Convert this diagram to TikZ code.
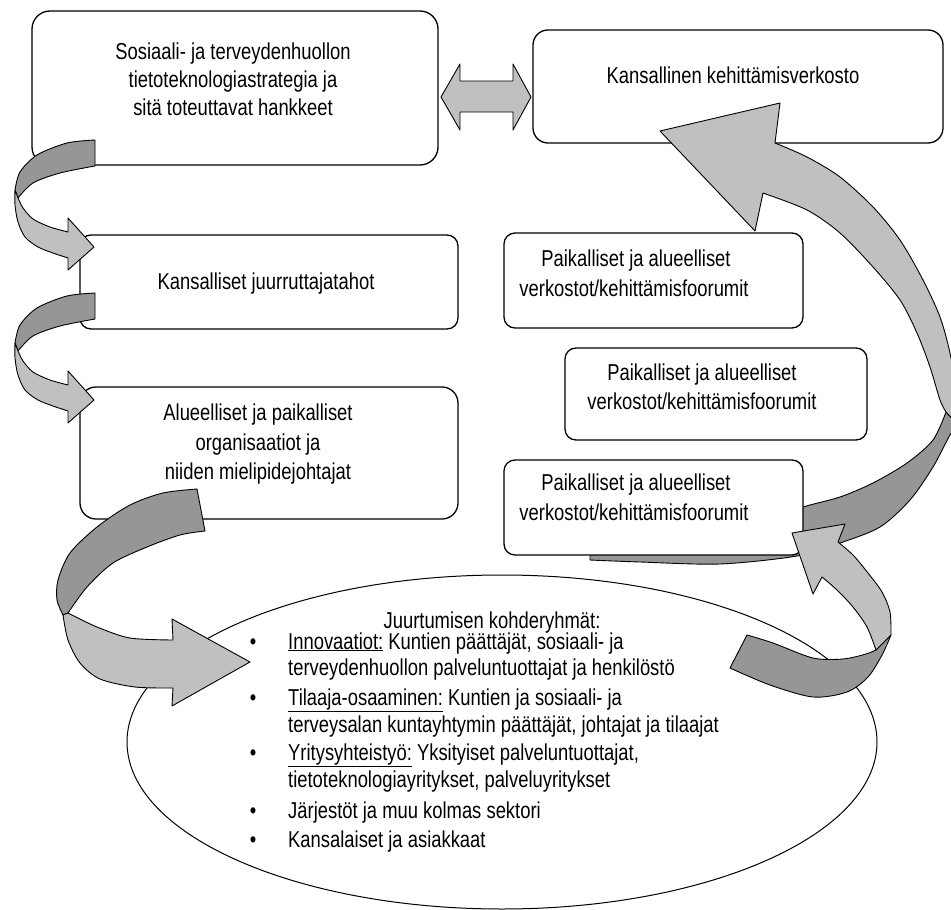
\documentclass[tikz,border=0pt]{standalone}
\usepackage{fontspec}
\setmainfont{Liberation Sans}[FakeStretch=0.80]
\usetikzlibrary{shapes.geometric}
\definecolor{dkg}{RGB}{150,150,150}
\definecolor{ltg}{RGB}{192,192,192}
\tikzset{
  box/.style={draw, line width=1.3pt, fill=white, inner sep=0pt, outer sep=0pt},
  txt/.style={font=\fontsize{23}{29}\selectfont, inner sep=0pt, anchor=base},
  itm/.style={txt, anchor=base west},
  arrline/.style={draw=black, line width=0.9pt, line join=round},
  curl/.pic={
    \filldraw[arrline, fill=dkg] (95,140) -- plot[smooth] coordinates {(95,140) (67,143) (37,155) (20,172) (15,190)} -- (18,198) -- plot[smooth] coordinates {(18,198) (33,183) (60,173) (95,166)} -- cycle;
    \filldraw[arrline, fill=ltg] (15,190) -- plot[smooth] coordinates {(15,190) (15,205) (18,222) (25,237) (38,247) (53,253) (68,258)} -- (68,270) -- (94,247) -- (68,218) -- (68,232) -- plot[smooth] coordinates {(68,232) (50,227) (33,219) (23,208) (18,198)} -- cycle;
  }
}
\begin{document}
\begin{tikzpicture}[x=1pt, y=-1pt]
\useasboundingbox (0,0) rectangle (951,910);
\clip (0,0) rectangle (951,910);
\fill[white] (0,0) rectangle (951,910);

% big right arrow, dark part (behind boxes)
\filldraw[arrline, fill=dkg] (946,412) -- plot[smooth] coordinates {(946,412) (933,440) (907,463) (873,483) (840,497) (803,507) (760,522) (700,535) (640,543) (590,548)} -- (590,560) -- plot[smooth] coordinates {(590,560) (640,562) (720,564) (797,556) (840,543) (880,527) (910,500) (933,467) (950,435) (958,425)} -- cycle;

% boxes
\node[box, rounded corners=18pt, minimum width=406pt, minimum height=154pt] (b1) at (235,88) {};
\node[box, rounded corners=15pt, minimum width=410pt, minimum height=113pt] (b2) at (738,86.5) {};
\node[box, rounded corners=11pt, minimum width=378pt, minimum height=94pt] (b3) at (269,282) {};
\node[box, rounded corners=16pt, minimum width=378pt, minimum height=132pt] (b4) at (269,453) {};
\node[box, rounded corners=11pt, minimum width=299pt, minimum height=95pt] (b5) at (653.5,280.5) {};
\node[box, rounded corners=11pt, minimum width=302pt, minimum height=92pt] (b6) at (716,394) {};
\node[box, rounded corners=11pt, minimum width=299pt, minimum height=95pt] (b7) at (653.5,507.5) {};
\node[draw, ellipse, line width=1pt, fill=white, inner sep=0pt, minimum width=750pt, minimum height=334pt] (ell) at (502,742) {};

% big right arrow, light part
\filldraw[arrline, fill=ltg] (660,131) -- (780,103) -- (775,143) -- plot[smooth] coordinates {(775,143) (807,157) (840,177) (873,207) (900,240) (923,280) (940,317) (950,353) (956,390) (958,425)} -- (946,412) -- plot[smooth] coordinates {(946,412) (940,400) (930,367) (917,333) (900,300) (873,267) (840,233) (807,210) (763,193)} -- (755,231) -- cycle;

% lower right arrow
\filldraw[arrline, fill=dkg] (747,635) -- plot[smooth] coordinates {(747,635) (773,643) (813,658) (843,659) (866,654) (876,650)} -- (891,635) -- plot[smooth] coordinates {(891,635) (882,655) (868,677) (847,692) (813,697) (770,685) (730,668)} -- cycle;
\filldraw[arrline, fill=ltg] (792,533) -- (845,524) -- (838,542) -- plot[smooth] coordinates {(838,542) (853,555) (868,573) (882,592) (890,612) (891,635)} -- (876,650) -- plot[smooth] coordinates {(876,650) (867,627) (853,607) (837,590) (822,577)} -- (813,594) -- cycle;

% left curl arrows
\pic at (0,0) {curl};
\pic at (0,153) {curl};

% arrow from box 4 to ellipse
\filldraw[arrline, fill=dkg] (197,489) -- plot[smooth] coordinates {(197,489) (163,493) (130,505) (97,527) (70,553) (58,580) (57,600) (63,615)} -- (68,613) -- plot[smooth] coordinates {(68,613) (87,587) (113,563) (147,547) (180,535) (205,531)} -- cycle;
\filldraw[arrline, fill=ltg] (63,615) -- plot[smooth] coordinates {(63,615) (68,640) (80,663) (100,679) (135,687) (173,688)} -- (172,706) -- (250,662) -- (172,619) -- (173,640) -- plot[smooth] coordinates {(173,640) (130,638) (97,627) (68,613)} -- cycle;

% double arrow
\filldraw[arrline, fill=ltg] (441,97) -- (460,64) -- (460,81) -- (513,81) -- (513,64) -- (531,97) -- (513,130) -- (513,112) -- (460,112) -- (460,130) -- cycle;

% texts
\node[txt] (t1a) at (233,59) {Sosiaali- ja terveydenhuollon};
\node[txt] (t1b) at (233,87) {tietoteknologiastrategia ja};
\node[txt] (t1c) at (233,115) {sitä toteuttavat hankkeet};
\node[txt] (t2) at (733,83) {Kansallinen kehittämisverkosto};
\node[txt] (t3) at (266,289) {Kansalliset juurruttajatahot};
\node[txt] (t4a) at (258,420) {Alueelliset ja paikalliset};
\node[txt] (t4b) at (258,450) {organisaatiot ja};
\node[txt] (t4c) at (258,479) {niiden mielipidejohtajat};
\node[txt] (t5a) at (636,266) {Paikalliset ja alueelliset};
\node[txt] (t5b) at (634,296) {verkostot/kehittämisfoorumit};
\node[txt] (t6a) at (702,380) {Paikalliset ja alueelliset};
\node[txt] (t6b) at (702,409) {verkostot/kehittämisfoorumit};
\node[txt] (t7a) at (636,490) {Paikalliset ja alueelliset};
\node[txt] (t7b) at (634,520) {verkostot/kehittämisfoorumit};

\node[txt] (tt) at (492,628) {Juurtumisen kohderyhmät:};
\node[txt] (u1) at (253,649) {•};
\node[txt] (u2) at (253,705) {•};
\node[txt] (u3) at (253,760) {•};
\node[txt] (u4) at (253,818) {•};
\node[txt] (u5) at (253,847) {•};
\node[itm] (i1) at (288,649) {\underline{Innovaatiot:} Kuntien päättäjät, sosiaali- ja};
\node[itm] (i1b) at (288,675) {terveydenhuollon palveluntuottajat ja henkilöstö};
\node[itm] (i2) at (288,705) {\underline{Tilaaja-osaaminen:} Kuntien ja sosiaali- ja};
\node[itm] (i2b) at (288,732) {terveysalan kuntayhtymin päättäjät, johtajat ja tilaajat};
\node[itm] (i3) at (288,760) {\underline{Yritysyhteistyö:} Yksityiset palveluntuottajat,};
\node[itm] (i3b) at (288,787) {tietoteknologiayritykset, palveluyritykset};
\node[itm] (i4) at (288,818) {Järjestöt ja muu kolmas sektori};
\node[itm] (i5) at (288,847) {Kansalaiset ja asiakkaat};
\end{tikzpicture}
\end{document}
